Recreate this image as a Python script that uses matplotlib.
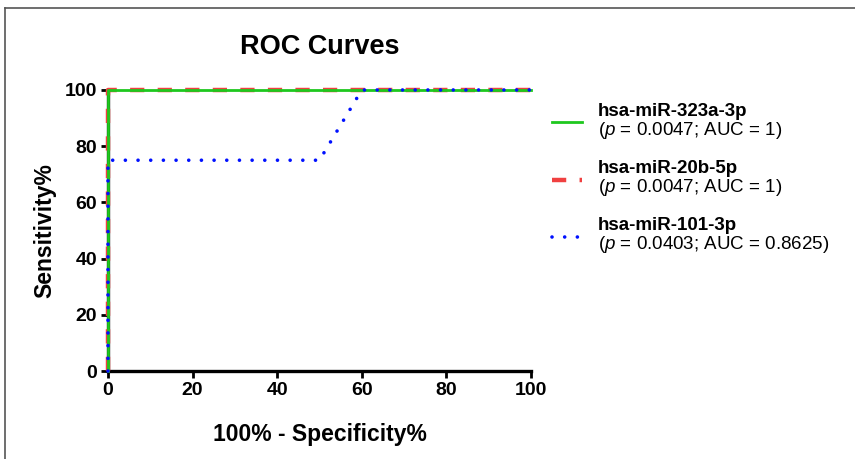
import matplotlib
matplotlib.use("Agg")
import matplotlib.pyplot as plt
from matplotlib.lines import Line2D

plt.rcParams['font.family'] = ['Liberation Sans', 'DejaVu Sans']
plt.rcParams['mathtext.fontset'] = 'custom'
plt.rcParams['mathtext.rm'] = 'Liberation Sans'
plt.rcParams['mathtext.it'] = 'Liberation Sans:italic'

# ROC curves (x = 100% - specificity, y = sensitivity)
x_323a = [0, 0, 100]
y_323a = [0, 100, 100]
x_20b = [0, 0, 100]
y_20b = [0, 100, 100]
x_101 = [0, 0, 50, 60, 100]
y_101 = [0, 75, 75, 100, 100]

names = ['hsa-miR-323a-3p', 'hsa-miR-20b-5p', 'hsa-miR-101-3p']
stats = ['($p$ = 0.0047; AUC = 1)', '($p$ = 0.0047; AUC = 1)',
         '($p$ = 0.0403; AUC = 0.8625)']
ticks = [0, 20, 40, 60, 80, 100]

fig = plt.figure(figsize=(8.55, 4.59), dpi=100)
ax = fig.add_axes([0.1263, 0.1917, 0.4947, 0.6123])

l_red, = ax.plot(x_20b, y_20b, color='#f04040', lw=3.2, dashes=(3.2, 3.0),
                 clip_on=False, zorder=3)
l_green, = ax.plot(x_323a, y_323a, color='#1ec81e', lw=2.0,
                   clip_on=False, zorder=4)
l_blue, = ax.plot(x_101, y_101, color='#0010ff', lw=2.6, dashes=(0.01, 3.5),
                  dash_capstyle='round', clip_on=False, zorder=5)

ax.set_xlim(0, 100)
ax.set_ylim(0, 100)
ax.set_xticks(ticks)
ax.set_yticks(ticks)
for s in ['top', 'right']:
    ax.spines[s].set_visible(False)
for s in ['left', 'bottom']:
    ax.spines[s].set_linewidth(2.4)
ax.tick_params(width=2.0, length=5, labelsize=14, pad=3)
for lab in ax.get_xticklabels() + ax.get_yticklabels():
    lab.set_fontweight('bold')

ax.set_title('ROC Curves', fontsize=19.5, fontweight='bold', pad=26)
ax.set_xlabel('100% - Specificity%', fontsize=16.5, fontweight='bold', labelpad=17)
ax.set_ylabel('Sensitivity%', fontsize=16.5, fontweight='bold', labelpad=6)

# legend built by hand: bold name over the p / AUC line, key between them
key_y = [0.886, 0.680, 0.477]
name_y = [0.9075, 0.7046, 0.5018]
stat_y = [0.840, 0.637, 0.434]
for line, name, st, ky, ny, sy in zip([l_green, l_red, l_blue], names, stats,
                                      key_y, name_y, stat_y):
    key = Line2D([1.0496, 1.1206], [ky, ky], clip_on=False)
    key.update_from(line)
    key.set_transform(ax.transAxes)
    ax.add_line(key)
    ax.text(1.1584, ny, name, transform=ax.transAxes, fontsize=13.5,
            fontweight='bold', va='baseline', ha='left')
    ax.text(1.1584, sy, st, transform=ax.transAxes, fontsize=13.5,
            va='baseline', ha='left')

# frame lines of the original figure panel
fig.add_artist(Line2D([0.006, 1], [0.983, 0.983], color='#555555', lw=1.2))
fig.add_artist(Line2D([0.006, 0.006], [0, 0.983], color='#555555', lw=1.2))

fig.savefig('out.png', dpi=100)
